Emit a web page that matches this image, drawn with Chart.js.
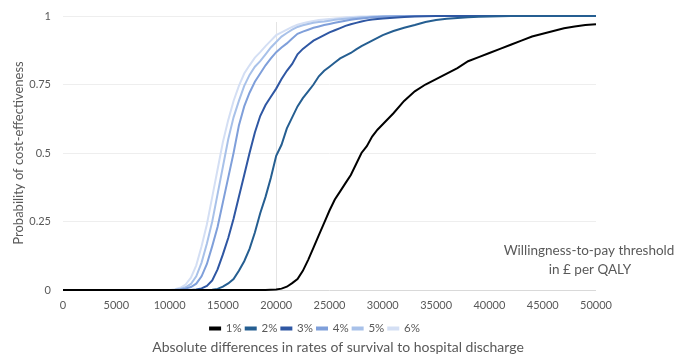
<!DOCTYPE html>
<html>
<head>
<meta charset="utf-8">
<script src="https://cdn.jsdelivr.net/npm/chart.js@4"></script>
<style>
    html, body { margin: 0; padding: 0; background: #fff; }
    #wrap { width: 677px; height: 356px; }
</style>
</head>
<body>
<div id="wrap"><canvas id="myChart" width="677" height="356"></canvas></div>
<script>
// willingness-to-pay thresholds (£ per QALY)
var wtp = [0, 5000, 10000, 10500, 11000, 11500, 12000, 12500, 13000, 13500, 14000, 14500, 15000, 15500,
    16000, 16500, 17000, 17500, 18000, 18500, 19000, 19500, 20000, 20500, 21000, 21500, 22000, 22500,
    23000, 23500, 24000, 24500, 25000, 25500, 26000, 26500, 27000, 27500, 28000, 28500, 29000, 29500,
    30000, 31000, 32000, 33000, 34000, 35000, 36000, 37000, 38000, 39000, 40000, 41000, 42000, 43000,
    44000, 45000, 46000, 47000, 48000, 49000, 50000];

// probability of cost-effectiveness per absolute difference in survival
var p1 = [0, 0, 0, 0, 0, 0, 0, 0, 0, 0, 0, 0, 0, 0,
    0, 0, 0, 0, 0, 0, 0, 0.001, 0.002, 0.005, 0.012, 0.025, 0.04, 0.07,
    0.11, 0.155, 0.2, 0.245, 0.29, 0.33, 0.36, 0.39, 0.42, 0.46, 0.5, 0.525, 0.56, 0.585,
    0.605, 0.645, 0.69, 0.725, 0.75, 0.77, 0.79, 0.81, 0.835, 0.85, 0.865, 0.88, 0.895, 0.91,
    0.925, 0.935, 0.945, 0.955, 0.962, 0.967, 0.97];
var p2 = [0, 0, 0, 0, 0, 0, 0, 0, 0, 0, 0.001, 0.004, 0.012, 0.024,
    0.04, 0.07, 0.105, 0.15, 0.21, 0.28, 0.34, 0.41, 0.49, 0.53, 0.59, 0.63, 0.67, 0.7,
    0.725, 0.75, 0.78, 0.8, 0.815, 0.83, 0.845, 0.855, 0.865, 0.878, 0.89, 0.9, 0.91, 0.92,
    0.93, 0.945, 0.957, 0.967, 0.978, 0.985, 0.99, 0.993, 0.995, 0.997, 0.998, 0.999, 1, 1,
    1, 1, 1, 1, 1, 1, 1];
var p3 = [0, 0, 0, 0, 0, 0, 0, 0.002, 0.006, 0.015, 0.035, 0.075, 0.13, 0.19,
    0.26, 0.34, 0.42, 0.5, 0.575, 0.635, 0.675, 0.705, 0.735, 0.77, 0.8, 0.825, 0.86, 0.88,
    0.895, 0.91, 0.92, 0.93, 0.94, 0.948, 0.956, 0.964, 0.97, 0.975, 0.98, 0.984, 0.987, 0.989,
    0.991, 0.994, 0.996, 0.998, 0.999, 1, 1, 1, 1, 1, 1, 1, 1, 1,
    1, 1, 1, 1, 1, 1, 1];
var p4 = [0, 0, 0, 0, 0.002, 0.005, 0.011, 0.023, 0.05, 0.095, 0.16, 0.23, 0.32, 0.41,
    0.5, 0.6, 0.67, 0.72, 0.76, 0.79, 0.82, 0.845, 0.868, 0.885, 0.9, 0.918, 0.935, 0.943,
    0.95, 0.957, 0.962, 0.967, 0.971, 0.975, 0.979, 0.983, 0.986, 0.989, 0.991, 0.993, 0.995, 0.996,
    0.997, 0.998, 0.999, 1, 1, 1, 1, 1, 1, 1, 1, 1, 1, 1,
    1, 1, 1, 1, 1, 1, 1];
var p5 = [0, 0, 0, 0.001, 0.004, 0.01, 0.022, 0.05, 0.1, 0.17, 0.25, 0.35, 0.45, 0.55,
    0.63, 0.69, 0.745, 0.785, 0.815, 0.835, 0.86, 0.885, 0.905, 0.925, 0.938, 0.95, 0.96, 0.966,
    0.971, 0.975, 0.978, 0.98, 0.983, 0.986, 0.988, 0.99, 0.992, 0.994, 0.995, 0.996, 0.997, 0.998,
    0.999, 1, 1, 1, 1, 1, 1, 1, 1, 1, 1, 1, 1, 1,
    1, 1, 1, 1, 1, 1, 1];
var p6 = [0, 0, 0, 0.003, 0.008, 0.02, 0.045, 0.09, 0.16, 0.24, 0.34, 0.44, 0.54, 0.62,
    0.69, 0.745, 0.79, 0.82, 0.848, 0.868, 0.89, 0.91, 0.93, 0.94, 0.95, 0.96, 0.968, 0.974,
    0.978, 0.982, 0.985, 0.987, 0.989, 0.991, 0.993, 0.995, 0.996, 0.997, 0.998, 0.998, 0.999, 0.999,
    1, 1, 1, 1, 1, 1, 1, 1, 1, 1, 1, 1, 1, 1,
    1, 1, 1, 1, 1, 1, 1];

var seriesLabels = ['1%', '2%', '3%', '4%', '5%', '6%'];
var seriesValues = [p1, p2, p3, p4, p5, p6];
var seriesColors = ['#000000', '#255e91', '#2f57a3', '#7f9fda', '#a8c1e9', '#d4dff4'];

var xTicks = [0, 5000, 10000, 15000, 20000, 25000, 30000, 35000, 40000, 45000, 50000];
var yTicks = [0, 0.25, 0.5, 0.75, 1];
var threshold = 20000;

var textColor = '#595959';
var fontFamily = 'Lato, "Liberation Sans", sans-serif';

var datasets = seriesValues.map(function (vals, i) {
    return {
        label: seriesLabels[i],
        data: vals.map(function (v, j) { return { x: wtp[j], y: v }; }),
        borderColor: seriesColors[i],
        backgroundColor: seriesColors[i],
        borderWidth: 2,
        pointRadius: 0,
        tension: 0,
        fill: false,
        clip: 4
    };
});

// threshold line and side note
var extras = {
    id: 'extras',
    beforeDatasetsDraw: function (chart) {
        var ctx = chart.ctx;
        var xs = chart.scales.x;
        var px = Math.round(xs.getPixelForValue(threshold)) + 0.5;
        ctx.save();
        ctx.strokeStyle = '#e4e4e4';
        ctx.lineWidth = 1;
        ctx.beginPath();
        ctx.moveTo(px, chart.chartArea.top + 6);
        ctx.lineTo(px, chart.chartArea.bottom);
        ctx.stroke();
        ctx.restore();
    },
    afterDraw: function (chart) {
        var ctx = chart.ctx;
        ctx.save();
        ctx.fillStyle = textColor;
        ctx.font = '13.5px ' + fontFamily;
        ctx.textAlign = 'center';
        ctx.textBaseline = 'middle';
        ctx.fillText('Willingness-to-pay threshold', 589, 251);
        ctx.fillText('in £ per QALY', 590, 270);
        ctx.restore();
    },
    afterLayout: function (chart) {
        // legend and bottom title are not centred on the plot in the original
        chart.legend.left += 17;
        chart.legend.right += 17;
        chart.legend.top += 5;
        chart.legend.bottom += 5;
        chart.titleBlock.left += 40;
        chart.titleBlock.right += 40;
    }
};

var ctx = document.getElementById('myChart').getContext('2d');
var myChart = new Chart(ctx, {
    type: 'line',
    data: { datasets: datasets },
    options: {
        responsive: false,
        animation: false,
        layout: { padding: { top: 16, right: 81, left: 0, bottom: 0 } },
        scales: {
            x: {
                type: 'linear',
                min: 0,
                max: 50000,
                afterBuildTicks: function (scale) {
                    scale.ticks = xTicks.map(function (v) { return { value: v }; });
                },
                afterFit: function (scale) { scale.height = scale.height - 7.5; },
                ticks: {
                    color: textColor,
                    font: { family: fontFamily, size: 11 },
                    padding: 9,
                    maxRotation: 0,
                    callback: function (v) { return String(v); }
                },
                grid: { display: false, drawTicks: false },
                border: { display: false }
            },
            y: {
                min: 0,
                max: 1,
                afterBuildTicks: function (scale) {
                    scale.ticks = yTicks.map(function (v) { return { value: v }; });
                },
                afterFit: function (scale) {
                    scale.width = 63;
                    scale.paddingTop = 0;
                    scale.paddingBottom = 0;
                },
                ticks: {
                    color: textColor,
                    font: { family: fontFamily, size: 11 },
                    padding: 12,
                    callback: function (v) { return String(v); }
                },
                grid: {
                    drawTicks: false,
                    color: function (c) { return c.tick && c.tick.value === 0 ? '#d9d9d9' : '#eeeeee'; }
                },
                border: { display: false },
                title: {
                    display: true,
                    text: 'Probability of cost-effectiveness',
                    color: textColor,
                    font: { family: fontFamily, size: 13 },
                    padding: { top: 11, bottom: 0 }
                }
            }
        },
        plugins: {
            legend: {
                position: 'bottom',
                labels: {
                    color: textColor,
                    font: { family: fontFamily, size: 11.5 },
                    boxWidth: 10,
                    boxHeight: 2,
                    padding: 4
                }
            },
            title: {
                display: true,
                position: 'bottom',
                text: 'Absolute differences in rates of survival to hospital discharge',
                color: textColor,
                font: { family: fontFamily, size: 14, weight: 'normal' },
                padding: { top: 0, bottom: 0 }
            },
            tooltip: { enabled: false }
        }
    },
    plugins: [extras]
});
</script>
</body>
</html>
